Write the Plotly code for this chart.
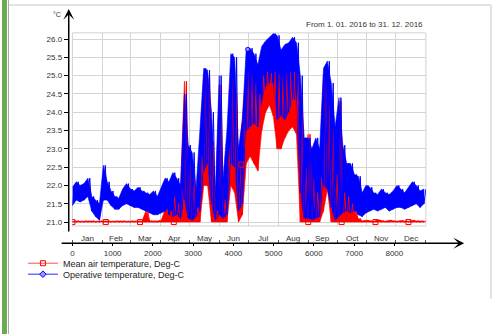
import plotly.graph_objects as go

W, H = 497, 335

# ---------------- data ----------------
hours = list(range(0, 8784, 96))  # sample hours, each sample gives a low/high reading

op_low = [21.45, 21.6, 21.55, 21.6, 21.7, 21.3, 21.15, 21.05,
          21.6, 21.6, 21.45, 21.35, 21.35, 21.45, 21.5,
          21.45, 21.4, 21.4, 21.35, 21.3, 21.25, 21.2, 21.2,
          21.25, 21.3, 21.2, 21.15, 21.2, 21.1, 21.6, 21.1,
          21.05, 21.15, 21.3, 22.4, 22.6, 21.5, 21.05,
          21.2, 21.1, 21.2, 22.6, 22.5, 21.3, 21.5, 23.5,
          23.6, 23.7, 23.6, 24.3, 24.7, 24.8, 24.8, 23.8,
          23.9, 23.8, 24.0, 24.4, 24.3, 21.8, 21.1,
          21.1, 21.05, 21.1, 21.15, 22.0, 21.9, 21.4, 21.05,
          21.15, 21.25, 21.3, 21.25, 21.3, 21.2, 21.15, 21.25,
          21.3, 21.35, 21.3, 21.35, 21.4, 21.3, 21.35,
          21.4, 21.4, 21.35, 21.4, 21.45, 21.5, 21.4, 21.5]
op_high = [21.95, 22.1, 22.0, 22.05, 22.2, 21.7, 21.6, 21.5,
           22.55, 22.1, 21.85, 21.7, 21.65, 21.9, 22.05,
           21.9, 21.85, 21.95, 21.85, 21.8, 21.75, 21.85, 21.7,
           21.95, 22.2, 22.1, 22.35, 22.2, 22.0, 24.5, 23.1,
           22.9, 21.9, 23.5, 25.2, 25.15, 24.0, 21.8,
           25.0, 22.2, 23.5, 25.6, 25.5, 23.0, 23.8, 25.75,
           25.75, 25.6, 25.3, 25.8, 25.95, 26.05, 26.15, 26.1,
           25.7, 25.85, 25.9, 26.05, 25.9, 25.0, 23.3,
           23.3, 23.0, 23.3, 23.0, 25.2, 25.4, 24.8, 23.6,
           24.4, 23.1, 22.6, 22.6, 22.3, 22.25, 21.8, 22.0,
           21.95, 21.8, 21.75, 21.9, 21.8, 21.75, 21.85,
           22.0, 21.9, 21.8, 21.95, 22.1, 22.0, 21.85, 21.9]

air_low = [21.0] * 8 + [21.0] * 7 + [21.0] * 8 + \
          [21.0, 21.0, 21.0, 21.0, 21.0, 21.0, 21.0, 21.0,
           21.0, 21.0, 21.0, 22.0, 22.0, 21.0, 21.0,
           21.0, 21.0, 21.0, 22.0, 21.8, 21.0, 21.2, 22.6,
           22.8, 22.6, 22.4, 23.5, 24.0, 24.2, 23.9, 23.0,
           23.0, 23.3, 23.5, 23.6, 23.4, 21.0, 21.0,
           21.0, 21.0, 21.0, 21.0, 21.3, 21.9, 21.0, 21.0,
           21.0, 21.0, 21.0, 21.0, 21.0, 21.0, 21.0, 21.0] + [21.0] * 7 + [21.0] * 8
air_high = [21.02, 21.03, 21.02, 21.03, 21.02, 21.03, 21.02, 21.03,
            21.02, 21.03, 21.02, 21.03, 21.02, 21.03, 21.02,
            21.03, 21.02, 21.03, 21.02, 21.3, 21.03, 21.02, 21.03,
            21.05, 21.35, 21.3, 21.7, 21.5, 22.0, 24.85, 22.6,
            22.2, 21.4, 22.8, 25.05, 24.95, 23.2, 21.3,
            24.75, 21.6, 23.0, 24.9, 24.5, 22.6, 23.8, 25.1,
            25.05, 24.8, 24.5, 25.0, 25.1, 25.07, 25.1, 25.05,
            25.0, 25.07, 25.1, 25.1, 25.05, 24.0, 22.5,
            23.4, 22.2, 21.8, 22.2, 25.05, 24.2, 23.5, 22.3,
            24.3, 21.8, 21.7, 21.5, 21.3, 21.1, 21.03, 21.05,
            21.03, 21.02, 21.06, 21.03, 21.02, 21.05, 21.03,
            21.02, 21.04, 21.03, 21.02, 21.05, 21.03, 21.02, 21.03]

air_marker_hours = [0, 830, 1680, 2520, 4200, 5860, 6690, 7530, 8350]
air_marker_vals = [21.0, 21.0, 21.0, 21.0, 22.57, 21.0, 21.0, 21.0, 21.0]
op_marker_hours = [4356]
op_marker_vals = [25.72]

month_bounds = [0, 744, 1440, 2184, 2904, 3648, 4368, 5112, 5856, 6576, 7320, 8040, 8784]
month_names = ["Jan", "Feb", "Mar", "Apr", "May", "Jun", "Jul", "Aug", "Sep", "Oct", "Nov", "Dec"]
x_ticks = [0, 1000, 2000, 3000, 4000, 5000, 6000, 7000, 8000]
y_ticks = [21.0, 21.5, 22.0, 22.5, 23.0, 23.5, 24.0, 24.5, 25.0, 25.5, 26.0]

series_names = ["Mean air temperature, Deg-C", "Operative temperature, Deg-C"]
title_text = "From 1. 01. 2016 to 31. 12. 2016"
unit_text = "°C"


def zigzag(hs, lo, hi):
    xs, ys = [], []
    for h, a, b in zip(hs, lo, hi):
        xs += [h, h + 48]
        ys += [a, b]
    return xs, ys


def band(hs, lo, hi):
    return list(hs) + list(hs)[::-1], list(lo) + list(hi)[::-1]


def px(x):
    return x / W


def py(y):
    return 1 - y / H


FONT = "Liberation Sans, Arial, sans-serif"
RED = "#ff0000"
BLUE = "#0000ff"

fig = go.Figure()

# filled bands first, then the zigzag traces over them
for lo, hi, col in [(air_low, air_high, RED), (op_low, op_high, BLUE)]:
    bx, by = band(hours, lo, hi)
    fig.add_trace(go.Scatter(x=bx, y=by, mode="lines", fill="toself", fillcolor=col,
                             line=dict(color=col, width=0.6), showlegend=False,
                             hoverinfo="skip"))
for lo, hi, col, wd in [(air_low, air_high, RED, 1.0), (op_low, op_high, BLUE, 1.0)]:
    zx, zy = zigzag(hours, lo, hi)
    fig.add_trace(go.Scatter(x=zx, y=zy, mode="lines", line=dict(color=col, width=wd),
                             showlegend=False, hoverinfo="skip"))

fig.add_trace(go.Scatter(x=air_marker_hours, y=air_marker_vals, mode="markers",
                         marker=dict(symbol="square-open", size=5, color=RED, line=dict(width=1)),
                         showlegend=False, hoverinfo="skip"))
fig.add_trace(go.Scatter(x=op_marker_hours, y=op_marker_vals, mode="markers",
                         marker=dict(symbol="circle", size=4, color="#9999ff",
                                     line=dict(width=1, color=BLUE)),
                         showlegend=False, hoverinfo="skip"))

# legend-only entries
fig.add_trace(go.Scatter(x=[None], y=[None], mode="lines+markers", name=series_names[0],
                         line=dict(color="#ff5050", width=1),
                         marker=dict(symbol="square-open", size=5, color=RED, line=dict(width=1)),
                         legend="legend"))
fig.add_trace(go.Scatter(x=[None], y=[None], mode="lines+markers", name=series_names[1],
                         line=dict(color="#7070ff", width=1.5),
                         marker=dict(symbol="diamond", size=5, color="#9999ff",
                                     line=dict(width=1, color=BLUE)),
                         legend="legend2"))

x0p, x1p = 70.7, 425.6
y_top, y_bot = 33.0, 226.7

annotations = []
for i, name in enumerate(month_names):
    c = (month_bounds[i] + month_bounds[i + 1]) / 2
    annotations.append(dict(x=c, xref="x", y=py(239), yref="paper", text=name, showarrow=False,
                            font=dict(family=FONT, size=8, color="#333"), xanchor="center",
                            yanchor="middle"))
annotations.append(dict(x=px(425), y=py(25), xref="paper", yref="paper", text=title_text,
                        showarrow=False, xanchor="right", yanchor="middle",
                        font=dict(family=FONT, size=8, color="#333")))
annotations.append(dict(x=px(61), y=py(15), xref="paper", yref="paper", text=unit_text,
                        showarrow=False, xanchor="right", yanchor="middle",
                        font=dict(family=FONT, size=7, color="#333")))
# axis arrows
annotations.append(dict(x=px(67), y=py(9), xref="paper", yref="paper", ax=0, ay=224,
                        axref="pixel", ayref="pixel", showarrow=True, arrowhead=3,
                        arrowsize=1.2, arrowwidth=1.5, arrowcolor="#000", text="", standoff=0))
annotations.append(dict(x=px(464), y=py(244), xref="paper", yref="paper", ax=-404, ay=0,
                        axref="pixel", ayref="pixel", showarrow=True, arrowhead=3,
                        arrowsize=1.2, arrowwidth=1.5, arrowcolor="#000", text="", standoff=0))

shapes = [
    dict(type="rect", xref="paper", yref="paper", x0=0, x1=px(5), y0=0, y1=1,
         fillcolor="#6aab4f", line=dict(width=0)),
    dict(type="line", xref="paper", yref="paper", x0=px(6.5), x1=px(6.5), y0=0, y1=1,
         line=dict(color="#a8a8a8", width=1)),
    dict(type="line", xref="paper", yref="paper", x0=px(6.5), x1=px(491), y0=py(5), y1=py(5),
         line=dict(color="#c8c8c8", width=1)),
    dict(type="line", xref="paper", yref="paper", x0=px(491), x1=px(491), y0=py(5), y1=py(300),
         line=dict(color="#c8c8c8", width=1)),
    dict(type="rect", xref="x domain", yref="y domain", x0=0, x1=1, y0=0, y1=1,
         line=dict(color="#d0d0d0", width=1), layer="below"),
]

fig.update_layout(
    width=W, height=H,
    margin=dict(l=0, r=0, t=0, b=0),
    paper_bgcolor="white", plot_bgcolor="white",
    font=dict(family=FONT, size=8, color="#333"),
    xaxis=dict(domain=[px(x0p), px(x1p)], range=[0, 8784], anchor="free", position=py(244),
               tickmode="array", tickvals=x_ticks, ticks="outside", ticklen=2,
               tickcolor="#000", tickwidth=1, showgrid=False, showline=False, zeroline=False,
               tickfont=dict(family=FONT, size=8, color="#333"),
               minor=dict(tickmode="array", tickvals=month_bounds, showgrid=True,
                          gridcolor="#d4d4d4", gridwidth=1, ticks="inside", ticklen=3,
                          tickcolor="#555")),
    yaxis=dict(domain=[py(y_bot), py(y_top)], range=[21 - (y_bot - 222.7) / 36.7,
                                                    21 + (222.7 - y_top) / 36.7],
               anchor="free", position=px(67), tickmode="array", tickvals=y_ticks,
               tickformat=".1f", ticks="outside", ticklen=5, tickcolor="#000",
               showgrid=True, gridcolor="#d4d4d4", gridwidth=1, showline=False,
               zeroline=False, tickfont=dict(family=FONT, size=8, color="#333")),
    legend=dict(x=px(21), y=py(264), xanchor="left", yanchor="middle",
                bgcolor="rgba(0,0,0,0)", font=dict(family=FONT, size=9, color="#222")),
    legend2=dict(x=px(21), y=py(275), xanchor="left", yanchor="middle",
                 bgcolor="rgba(0,0,0,0)", font=dict(family=FONT, size=9, color="#222")),
    annotations=annotations,
    shapes=shapes,
)

fig.write_html("out.html", config={"displayModeBar": False, "staticPlot": True},
               post_script="document.body.style.margin='0px';document.body.style.overflow='hidden';")
